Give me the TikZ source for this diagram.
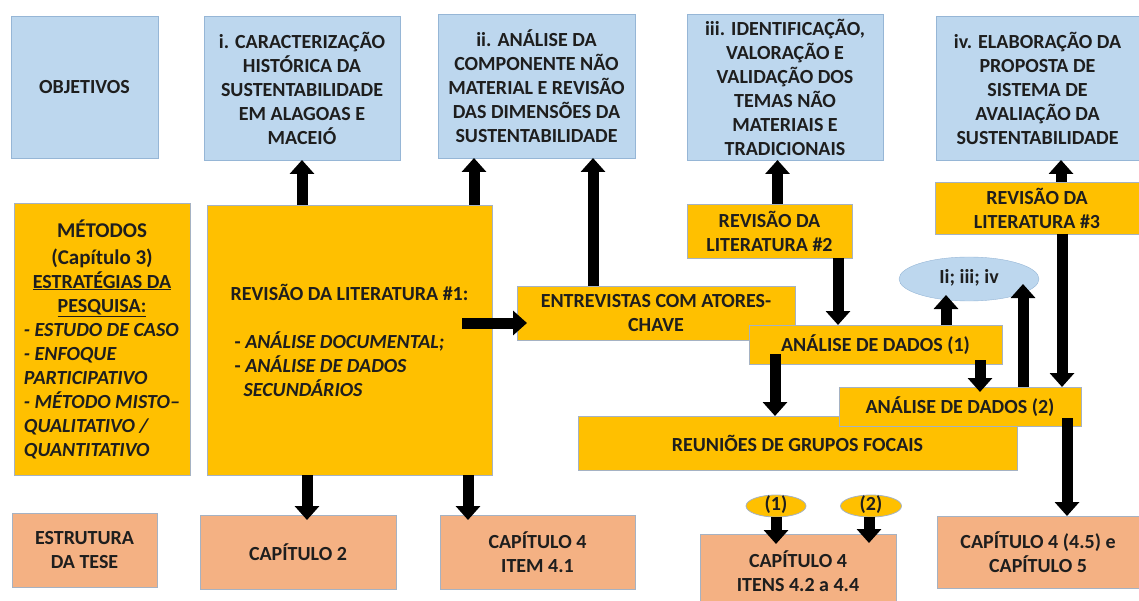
\documentclass[tikz,border=0pt]{standalone}
\usepackage{fontspec}
\setmainfont{Carlito}
\usetikzlibrary{arrows.meta,shapes.geometric}
\definecolor{objblue}{RGB}{189,215,238}
\definecolor{objline}{RGB}{150,182,214}
\definecolor{metgold}{RGB}{255,192,0}
\definecolor{boxline}{RGB}{165,178,195}
\definecolor{estsalmon}{RGB}{244,177,131}
\definecolor{txtgray}{RGB}{30,30,30}

\begin{document}
\begin{tikzpicture}[x=1pt,y=-1pt,
every node/.style={
rectangle,
align=center,
anchor=south west,
outer sep=0pt,
font=\fontsize{20}{24}\selectfont\bfseries,
text=txtgray,
},
box/.style={
draw,
line width=0.8pt,
},
obj/.style={box,draw=objline,fill=objblue},
met/.style={box,draw=boxline,fill=metgold},
est/.style={box,draw=boxline,fill=estsalmon},
tag/.style={ellipse,anchor=center,inner sep=0pt,text height=12pt,text depth=3pt},
blockarrow/.style={line width=11pt,-{Triangle[length=14pt,width=24pt]}},
]
\useasboundingbox (0,0) rectangle (1139,601);

%Objetivos
\node[obj,minimum width=147pt,minimum height=142pt](obj)at(11,158){OBJETIVOS};
\node[obj,minimum width=196pt,minimum height=144pt](objI)at(204,160){i. CARACTERIZAÇÃO\\HISTÓRICA DA\\SUSTENTABILIDADE\\EM ALAGOAS E\\MACEIÓ};
\node[obj,minimum width=197pt,minimum height=144pt](objII)at(438,158){ii. ANÁLISE DA\\COMPONENTE NÃO\\MATERIAL E REVISÃO\\DAS DIMENSÕES DA\\SUSTENTABILIDADE};
\node[obj,minimum width=196pt,minimum height=146pt](objIII)at(687,160){iii. IDENTIFICAÇÃO,\\VALORAÇÃO E\\VALIDAÇÃO DOS\\TEMAS NÃO\\MATERIAIS E\\TRADICIONAIS};
\node[obj,minimum width=203pt,minimum height=144pt](objIV)at(936,160){iv. ELABORAÇÃO DA\\PROPOSTA DE\\SISTEMA DE\\AVALIAÇÃO DA\\SUSTENTABILIDADE};

%Metodos
\node[met,minimum width=176pt,minimum height=272pt,inner sep=4pt](met)at(14,475){\begin{minipage}{166pt}\centering
{\fontsize{21}{27}\selectfont MÉTODOS\\(Capítulo 3)\par}
\underline{ESTRATÉGIAS DA}\\\underline{PESQUISA:}\par
\raggedright\leftskip=5pt\itshape - ESTUDO DE CASO\\- ENFOQUE\\PARTICIPATIVO\\- MÉTODO MISTO–\\QUALITATIVO /\\QUANTITATIVO\end{minipage}};
\node[met,minimum width=285pt,minimum height=270pt,align=left](rev1)at(207,475){REVISÃO DA LITERATURA \#1:\\[24pt]\hspace*{4pt}- \textit{ANÁLISE DOCUMENTAL;}\\\hspace*{4pt}- \textit{ANÁLISE DE DADOS}\\\hspace*{13pt}\textit{SECUNDÁRIOS}};
\node[met,minimum width=278pt,minimum height=54pt](entrev)at(517,340){ENTREVISTAS COM ATORES-\\CHAVE};
\node[met,minimum width=165pt,minimum height=54pt](rev2)at(687,258){REVISÃO DA\\LITERATURA \#2};
\node[met,minimum width=204pt,minimum height=52pt](rev3)at(935,234){REVISÃO DA\\LITERATURA \#3};
\node[tag,draw=objline,fill=objblue,minimum width=140pt,minimum height=44pt](tags)at(969,279){Ii; iii; iv};
\node[met,minimum width=253pt,minimum height=39pt](anal1)at(749,364){ANÁLISE DE DADOS (1)};
\node[met,minimum width=439pt,minimum height=54pt](reun)at(578,470){REUNIÕES DE GRUPOS FOCAIS};
\node[met,minimum width=242pt,minimum height=39pt](anal2)at(839,426){ANÁLISE DE DADOS (2)};

%Estrutura da tese
\node[est,minimum width=145pt,minimum height=74pt](estr)at(12,587){ESTRUTURA\\DA TESE};
\node[est,minimum width=196pt,minimum height=74pt](cap2)at(200,589){CAPÍTULO 2};
\node[est,minimum width=195pt,minimum height=74pt](cap41)at(440,589){CAPÍTULO 4\\ITEM 4.1};
\node[est,minimum width=196pt,minimum height=74pt](cap42)at(700,608){CAPÍTULO 4\\ITENS 4.2 a 4.4};
\node[est,minimum width=202pt,minimum height=72pt](cap45)at(937,588){CAPÍTULO 4 (4.5) e\\CAPÍTULO 5};
\node[tag,box,draw=boxline,fill=metgold,minimum width=60pt,minimum height=22pt](tag1)at(776,506){(1)};
\node[tag,box,draw=boxline,fill=metgold,minimum width=61pt,minimum height=22pt](tag2)at(871,506){(2)};

%arrows
\draw[blockarrow](rev1.north -| objI.south)--(objI.south);
\draw[blockarrow]([xshift=-18pt]rev1.north east)coordinate(t)--(t |- objII.south);
\draw[blockarrow]([xshift=76pt]entrev.north west)coordinate(t)--(t |- objII.south);
\draw[blockarrow]([xshift=8pt]rev2.north)coordinate(t)--(t |- objIII.south);
\draw[blockarrow]([xshift=24pt]rev3.north)coordinate(t)--(t |- objIV.south);
\draw[blockarrow]([xshift=-30pt,yshift=17pt]rev1.east)coordinate(t)--([xshift=10pt]t -| entrev.west);
\draw[blockarrow]([xshift=-14pt]rev2.south east)coordinate(t)--(t |- anal1.north);
\draw[blockarrow]([xshift=-56pt]anal1.north east)coordinate(t)--([yshift=6pt]t |- tags.south);
\draw[blockarrow]([xshift=-58pt]anal2.north east)coordinate(t)--([yshift=-5pt]t |- tags.east);
\draw[blockarrow]([xshift=-22pt,yshift=4pt]anal1.south east)coordinate(t)--([yshift=-5pt]t |- anal2.north);
\draw[blockarrow]([xshift=26pt,yshift=10pt]anal1.south west)coordinate(t)--(t |- reun.north);
\draw[blockarrow]([xshift=25pt]rev3.south)coordinate(t)--(t |- anal2.north);
\draw[blockarrow]([xshift=-14pt,yshift=8pt]anal2.south east)coordinate(t)--(t |- cap45.north);
\draw[blockarrow]([xshift=100pt]rev1.south west)coordinate(t)--([yshift=-5pt]t |- cap2.north);
\draw[blockarrow]([xshift=-24pt]rev1.south east)coordinate(t)--([yshift=-5pt]t |- cap41.north);
\draw[blockarrow](tag1.south)--([yshift=-10pt]tag1.south |- cap42.north);
\draw[blockarrow]([xshift=-2pt]tag2.south)coordinate(t)--([yshift=-9pt]t |- cap42.north);
\end{tikzpicture}
\end{document}
